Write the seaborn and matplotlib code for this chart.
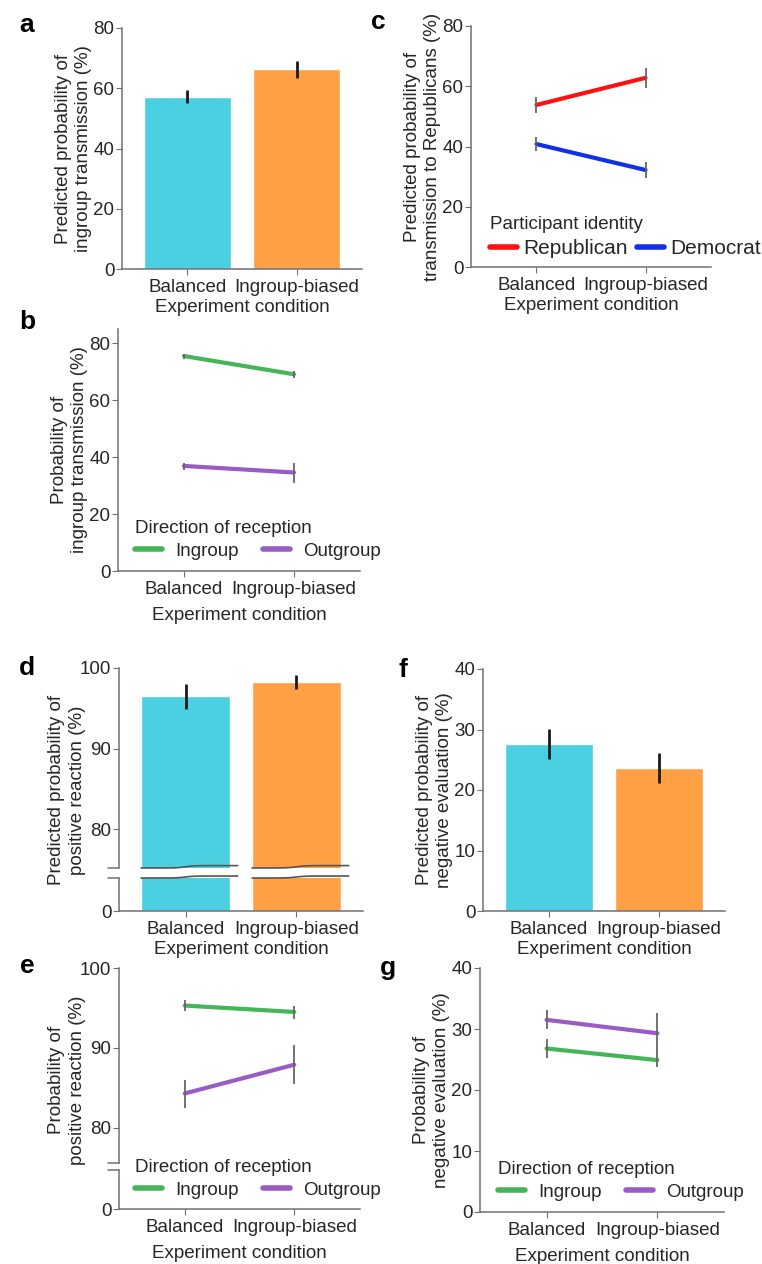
import numpy as np
import pandas as pd
import matplotlib
matplotlib.use("Agg")
import matplotlib.pyplot as plt
import matplotlib.transforms as mtransforms
import seaborn as sns

# Data
conditions = ["Balanced", "Ingroup-biased"]

# a: predicted probability of ingroup transmission
a_mean = [57.1, 66.4]
a_lo = [55.1, 63.4]
a_hi = [59.5, 69.1]

# b: probability of ingroup transmission by direction of reception
b_in = [75.5, 69.1]
b_in_lo = [74.5, 67.7]
b_in_hi = [76.3, 70.2]
b_out = [36.9, 34.6]
b_out_lo = [35.4, 31.0]
b_out_hi = [38.0, 38.1]

# c: predicted probability of transmission to Republicans
c_rep = [53.8, 62.8]
c_rep_lo = [51.2, 59.5]
c_rep_hi = [56.5, 66.1]
c_dem = [40.8, 32.2]
c_dem_lo = [38.6, 29.5]
c_dem_hi = [43.0, 35.0]

# d: predicted probability of positive reaction
d_mean = [96.5, 98.3]
d_lo = [94.9, 97.4]
d_hi = [98.0, 99.1]

# e: probability of positive reaction by direction of reception
e_in = [95.3, 94.5]
e_in_lo = [94.6, 93.6]
e_in_hi = [96.0, 95.3]
e_out = [84.3, 87.9]
e_out_lo = [82.5, 85.5]
e_out_hi = [86.0, 90.4]

# f: predicted probability of negative evaluation
f_mean = [27.6, 23.6]
f_lo = [25.1, 21.2]
f_hi = [30.1, 26.1]

# g: probability of negative evaluation by direction of reception
g_in = [26.8, 24.9]
g_in_lo = [25.3, 23.8]
g_in_hi = [28.4, 26.2]
g_out = [31.5, 29.3]
g_out_lo = [30.0, 26.1]
g_out_hi = [33.1, 32.7]

bar_colors = ["#4ad0e0", "#ffa044"]
dir_groups = ["Ingroup", "Outgroup"]
dir_colors = ["#45b557", "#9b5bc4"]
party_groups = ["Republican", "Democrat"]
party_colors = ["#ff1010", "#1030e8"]

FS = 13.5
sns.set_style("ticks")
plt.rcParams["font.family"] = ["Liberation Sans", "DejaVu Sans"]
plt.rcParams["font.size"] = FS
TXT = "#262626"
SP = "#707070"
plt.rcParams.update({
    "text.color": TXT, "axes.labelcolor": TXT,
    "xtick.color": SP, "ytick.color": SP,
    "xtick.labelcolor": TXT, "ytick.labelcolor": TXT,
    "axes.edgecolor": SP, "axes.linewidth": 1.1,
    "xtick.major.size": 4, "ytick.major.size": 4,
    "ytick.major.pad": 1.5,
    "xtick.labelsize": FS, "ytick.labelsize": FS,
    "axes.labelsize": FS,
})

W, H = 762, 1264
fig = plt.figure(figsize=(W / 100, H / 100), dpi=100)
YLS = 1.25  # y label line spacing
YLP = 1     # y label pad


def box(l, r, t, b):
    return [l / W, 1 - b / H, (r - l) / W, (b - t) / H]


def style(ax, xaxis=True):
    sns.despine(ax=ax)
    ax.set_xlim(-0.6, 1.6)
    if not xaxis:
        ax.spines["bottom"].set_visible(False)
        ax.tick_params(axis="x", length=0, labelbottom=False)
        ax.set_xlabel("")


def bars(ax, mean, lo, hi, err=True):
    df = pd.DataFrame({"condition": conditions, "value": mean})
    sns.barplot(data=df, x="condition", y="value", hue="condition",
                palette=bar_colors, width=0.8, errorbar=None, legend=False,
                saturation=1, ax=ax)
    if err:
        ax.vlines(range(len(conditions)), lo, hi, color="#1a1a1a", lw=2, zorder=3)


def lines(ax, groups, colors, vals, los, his, title, leg_xy, tpad, colspace, lfs=FS):
    rows = []
    for g, v in zip(groups, vals):
        for c, y in zip(conditions, v):
            rows.append({"condition": c, "group": g, "value": y})
    df = pd.DataFrame(rows)
    sns.lineplot(data=df, x="condition", y="value", hue="group",
                 palette=colors, lw=3, sort=False, ax=ax)
    for lo, hi in zip(los, his):
        ax.vlines(range(len(conditions)), lo, hi, color="#666666", lw=1.3, zorder=3)
    handles, labels = ax.get_legend_handles_labels()
    leg = ax.legend(handles, labels, title=title, ncol=2, frameon=False,
                    loc="lower left", bbox_to_anchor=(leg_xy[0] / W, 1 - leg_xy[1] / H),
                    bbox_transform=fig.transFigure, borderpad=0, borderaxespad=0,
                    handlelength=27 / (lfs * 100 / 72), handletextpad=tpad,
                    columnspacing=colspace, fontsize=lfs, title_fontsize=FS,
                    labelspacing=0.3)
    leg._legend_box.align = "left"
    for h in leg.legend_handles:
        h.set_linewidth(4)
    return leg


def break_marks(ax_top, ax_bot, across_bars):
    # small marks on the y spine, plus wavy edges across the bars
    for ax, yy in ((ax_top, 0.0), (ax_bot, 1.0)):
        tr = ax.transAxes
        ax.plot([0, -0.025, -0.045], [yy, yy, yy], transform=tr, color=SP,
                lw=1.1, clip_on=False)
        if across_bars:
            blend = mtransforms.blended_transform_factory(ax.transData, ax.transAxes)
            for xc in range(len(conditions)):
                xs = np.linspace(xc - 0.4, xc + 0.47, 60)
                step = 1 / (1 + np.exp(-(xs - xc) * 25))
                off = 0.012 if ax is ax_top else 0.06
                ys = yy + off * step
                ax.plot(xs, ys, transform=blend, color="#555555", lw=1.2,
                        clip_on=False, zorder=4)


def letter(x, y, s):
    fig.text(x / W, 1 - y / H, s, fontsize=19, fontweight="bold",
             ha="center", va="center", color="black")


# ---- a ----
ax = fig.add_axes(box(122, 362, 28, 269))
bars(ax, a_mean, a_lo, a_hi)
style(ax)
ax.set_ylim(0, 80)
ax.set_yticks([0, 20, 40, 60, 80])
ax.set_xlabel("Experiment condition", labelpad=2)
ax.set_ylabel("Predicted probability of\ningroup transmission (%)", linespacing=YLS, labelpad=YLP)
letter(27, 25, "a")

# ---- c ----
ax = fig.add_axes(box(471, 711, 26, 267))
lines(ax, party_groups, party_colors, [c_rep, c_dem], [c_rep_lo, c_dem_lo],
      [c_rep_hi, c_dem_hi], "Participant identity", (490, 258), 0.3, 0.45, lfs=15)
style(ax)
ax.set_ylim(0, 80)
ax.set_yticks([0, 20, 40, 60, 80])
ax.set_xlabel("Experiment condition", labelpad=2)
ax.set_ylabel("Predicted probability of\ntransmission to Republicans (%)", linespacing=YLS, labelpad=YLP)
letter(378, 22, "c")

# ---- b ----
ax = fig.add_axes(box(118, 360, 329, 571))
lines(ax, dir_groups, dir_colors, [b_in, b_out], [b_in_lo, b_out_lo],
      [b_in_hi, b_out_hi], "Direction of reception", (135, 560), 0.7, 1.3)
style(ax)
ax.set_ylim(0, 85)
ax.set_yticks([0, 20, 40, 60, 80])
ax.set_xlabel("Experiment condition", labelpad=6)
ax.set_ylabel("Probability of\ningroup transmission (%)", linespacing=YLS, labelpad=YLP)
letter(27, 322, "b")

# ---- d (broken axis) ----
ax_t = fig.add_axes(box(119, 363, 668, 868))
ax_b = fig.add_axes(box(119, 363, 878, 911))
bars(ax_t, d_mean, d_lo, d_hi)
bars(ax_b, d_mean, d_lo, d_hi, err=False)
style(ax_t, xaxis=False)
style(ax_b)
ax_t.set_ylim(75.2, 100)
ax_t.set_yticks([80, 90, 100])
ax_t.set_ylabel("")
ax_b.set_ylim(0, 4.1)
ax_b.set_yticks([0])
ax_b.set_ylabel("")
ax_b.set_xlabel("Experiment condition", labelpad=2)
break_marks(ax_t, ax_b, True)
fig.text(67 / W, 1 - 790 / H, "Predicted probability of\npositive reaction (%)", rotation=90,
         ha="center", va="center", linespacing=YLS, fontsize=FS)
letter(27, 668, "d")

# ---- f ----
ax = fig.add_axes(box(483, 725, 669, 911))
bars(ax, f_mean, f_lo, f_hi)
style(ax)
ax.set_ylim(0, 40)
ax.set_yticks([0, 10, 20, 30, 40])
ax.set_xlabel("Experiment condition", labelpad=2)
ax.set_ylabel("Predicted probability of\nnegative evaluation (%)", linespacing=YLS, labelpad=YLP)
letter(403, 670, "f")

# ---- e (broken axis) ----
ax_t = fig.add_axes(box(119, 360, 968, 1163))
ax_b = fig.add_axes(box(119, 360, 1170, 1209))
ax_t.set_zorder(3)
ax_t.patch.set_visible(False)
lines(ax_t, dir_groups, dir_colors, [e_in, e_out], [e_in_lo, e_out_lo],
      [e_in_hi, e_out_hi], "Direction of reception", (135, 1199), 0.7, 1.3)
style(ax_t, xaxis=False)
style(ax_b)
ax_t.set_ylim(75.6, 100)
ax_t.set_yticks([80, 90, 100])
ax_t.set_ylabel("")
ax_b.set_ylim(0, 4.9)
ax_b.set_yticks([0])
ax_b.set_xticks(range(len(conditions)))
ax_b.set_xticklabels(conditions)
ax_b.set_xlabel("Experiment condition", labelpad=6)
break_marks(ax_t, ax_b, False)
fig.text(67 / W, 1 - 1080 / H, "Probability of\npositive reaction (%)", rotation=90,
         ha="center", va="center", linespacing=YLS, fontsize=FS)
letter(27, 966, "e")

# ---- g ----
ax = fig.add_axes(box(480, 724, 968, 1212))
lines(ax, dir_groups, dir_colors, [g_in, g_out], [g_in_lo, g_out_lo],
      [g_in_hi, g_out_hi], "Direction of reception", (498, 1201), 0.7, 1.3)
style(ax)
ax.set_ylim(0, 40)
ax.set_yticks([0, 10, 20, 30, 40])
ax.set_xlabel("Experiment condition", labelpad=6)
ax.set_ylabel("Probability of\nnegative evaluation (%)", linespacing=YLS, labelpad=YLP)
letter(388, 968, "g")

fig.savefig("out.png", dpi=100)
